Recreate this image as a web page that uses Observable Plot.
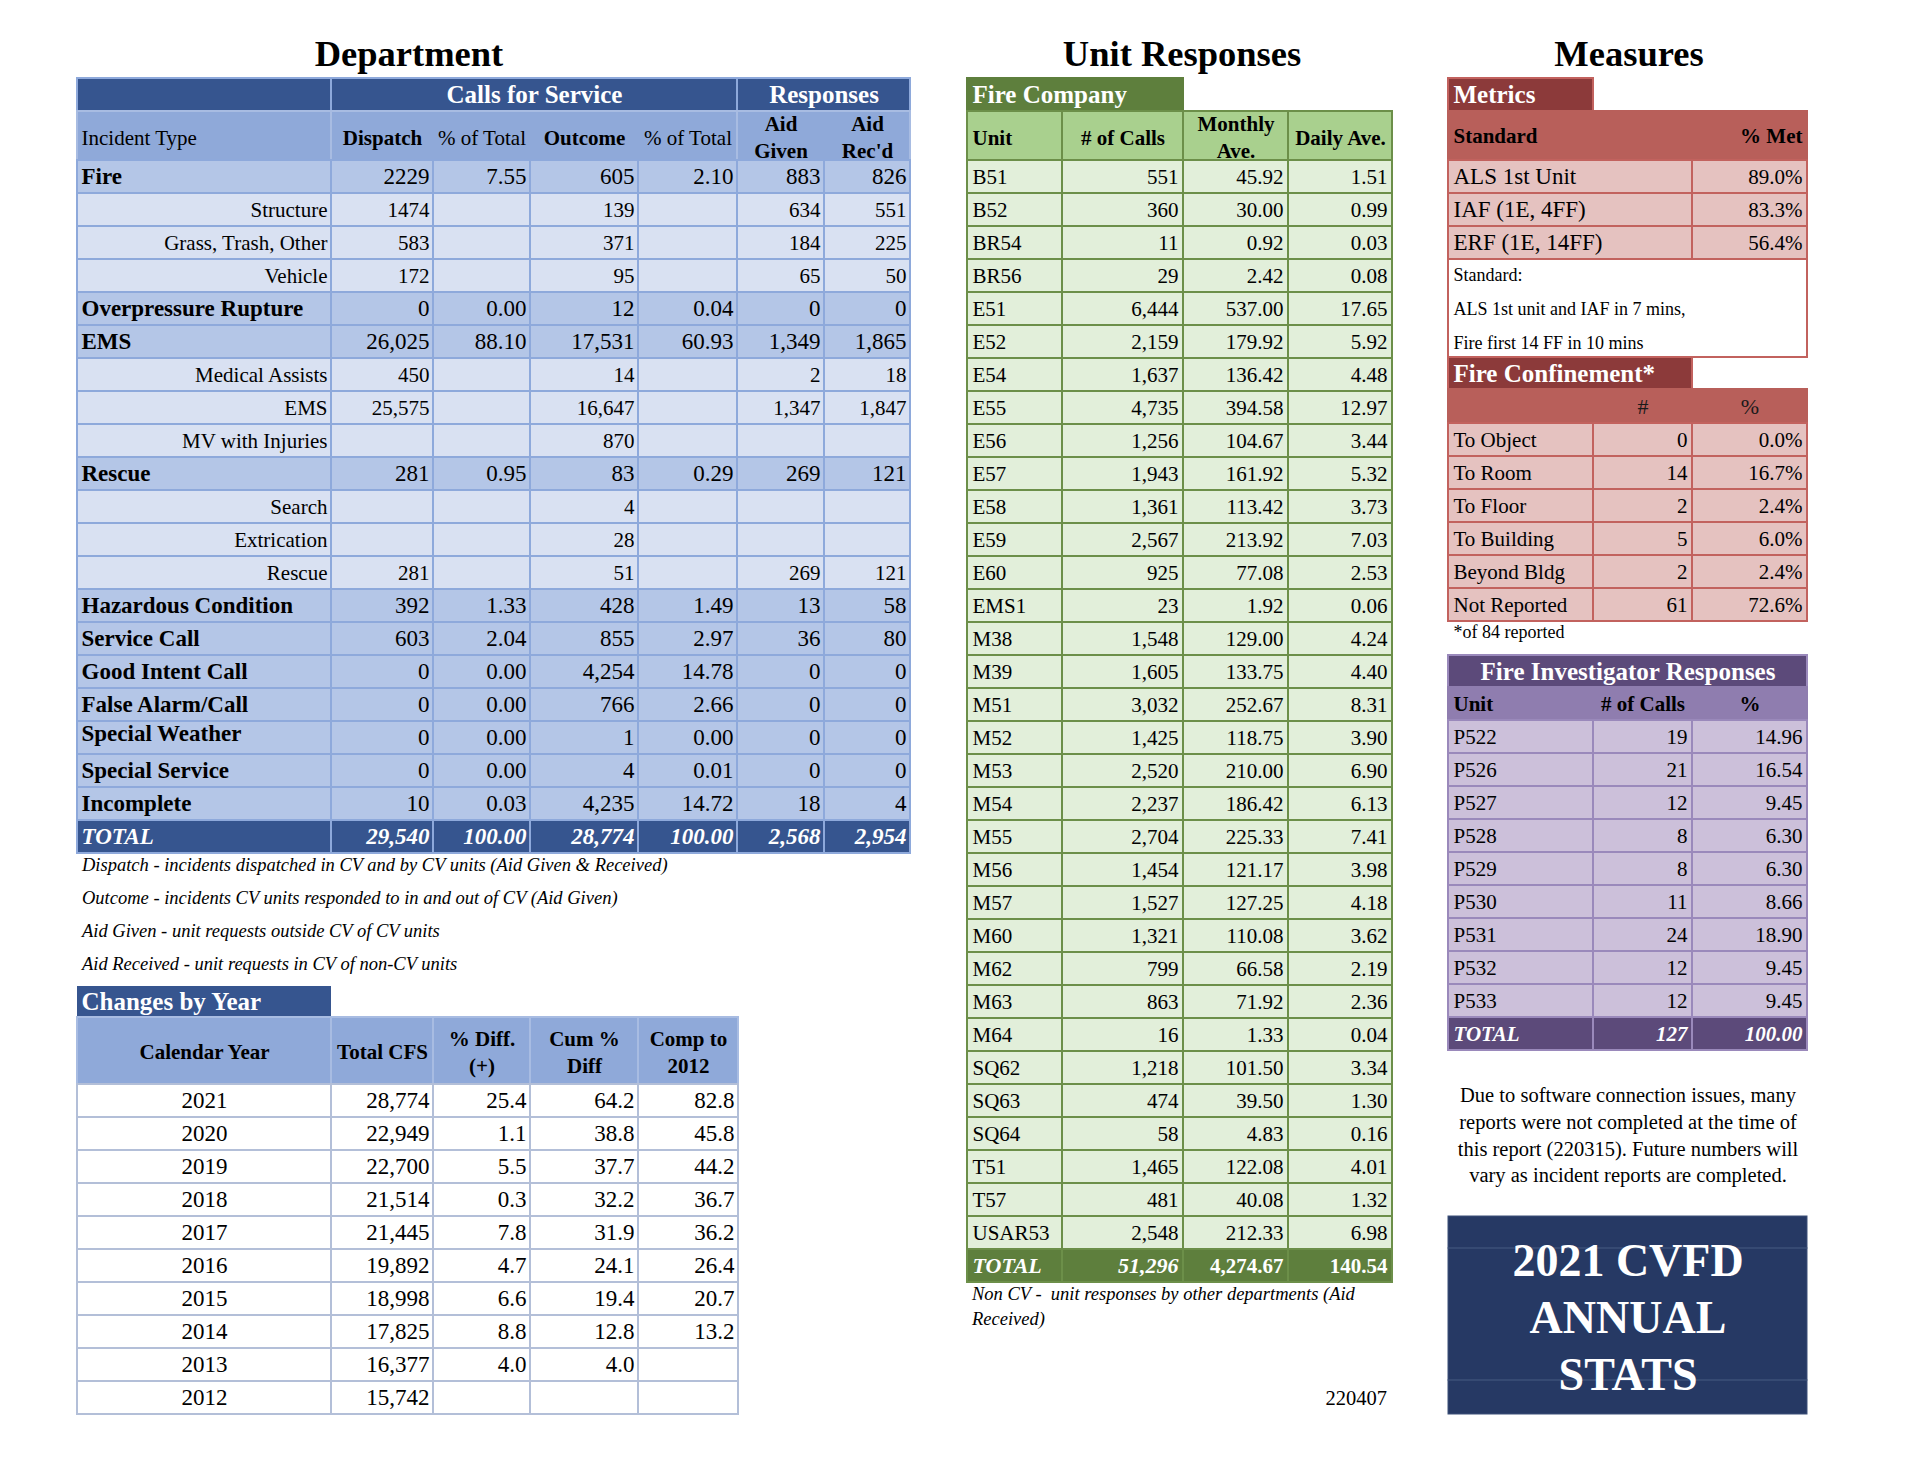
<!DOCTYPE html>
<html>
<head>
<meta charset="utf-8">
<script src="https://cdn.jsdelivr.net/npm/d3@7"></script>
<script src="https://cdn.jsdelivr.net/npm/@observablehq/plot@0.6"></script>
<style>
  html, body { margin: 0; padding: 0; background: #fff; }
  #page { position: relative; width: 1920px; height: 1480px; overflow: hidden;
          font-family: "Liberation Serif", "Times New Roman", Times, serif; color: #000; }
  .lbl { position: absolute; white-space: pre; line-height: 1; }
</style>
</head>
<body>
<div id="page"></div>
<script>
// ------------------------------------------------------------------ DATA
// Section titles
const sectionTitles = ["Department", "Unit Responses", "Measures"];

// Department – Calls for Service / Responses
const deptGroupHeaders = ["Calls for Service", "Responses"];
const deptColumnHeaders = ["Incident Type", "Dispatch", "% of Total", "Outcome", "% of Total", "Aid\nGiven", "Aid\nRec'd"];
const deptHeaderBold = [false, true, false, true, false, true, true];
const incidentTypes = ["Fire", "Structure", "Grass, Trash, Other", "Vehicle", "Overpressure Rupture", "EMS",
  "Medical Assists", "EMS", "MV with Injuries", "Rescue", "Search", "Extrication", "Rescue",
  "Hazardous Condition", "Service Call", "Good Intent Call", "False Alarm/Call", "Special Weather",
  "Special Service", "Incomplete", "TOTAL"];
const incidentLevels = ["cat", "sub", "sub", "sub", "cat", "cat", "sub", "sub", "sub", "cat", "sub", "sub", "sub",
  "cat", "cat", "cat", "cat", "cat", "cat", "cat", "total"];
const dispatchCounts = [2229, 1474, 583, 172, 0, 26025, 450, 25575, null, 281, null, null, 281, 392, 603, 0, 0, 0, 0, 10, 29540];
const dispatchPct    = [7.55, null, null, null, 0.00, 88.10, null, null, null, 0.95, null, null, null, 1.33, 2.04, 0.00, 0.00, 0.00, 0.00, 0.03, 100.00];
const outcomeCounts  = [605, 139, 371, 95, 12, 17531, 14, 16647, 870, 83, 4, 28, 51, 428, 855, 4254, 766, 1, 4, 4235, 28774];
const outcomePct     = [2.10, null, null, null, 0.04, 60.93, null, null, null, 0.29, null, null, null, 1.49, 2.97, 14.78, 2.66, 0.00, 0.01, 14.72, 100.00];
const aidGiven       = [883, 634, 184, 65, 0, 1349, 2, 1347, null, 269, null, null, 269, 13, 36, 0, 0, 0, 0, 18, 2568];
const aidReceived    = [826, 551, 225, 50, 0, 1865, 18, 1847, null, 121, null, null, 121, 58, 80, 0, 0, 0, 0, 4, 2954];
const plainCountRows = [0, 1, 2, 3]; // Fire group is printed without thousands separators
const raisedLabelRows = [17];         // "Special Weather" label sits high in its cell
const deptNotes = [
  "Dispatch - incidents dispatched in CV and by CV units (Aid Given & Received)",
  "Outcome - incidents CV units responded to in and out of CV (Aid Given)",
  "Aid Given - unit requests outside CV of CV units",
  "Aid Received - unit requests in CV of non-CV units"];

// Changes by Year
const yearTitle = "Changes by Year";
const yearHeaders = ["Calendar Year", "Total CFS", "% Diff.\n(+)", "Cum %\nDiff", "Comp to\n2012"];
const calendarYears = [2021, 2020, 2019, 2018, 2017, 2016, 2015, 2014, 2013, 2012];
const totalCFS   = [28774, 22949, 22700, 21514, 21445, 19892, 18998, 17825, 16377, 15742];
const pctDiff    = [25.4, 1.1, 5.5, 0.3, 7.8, 4.7, 6.6, 8.8, 4.0, null];
const cumPctDiff = [64.2, 38.8, 37.7, 32.2, 31.9, 24.1, 19.4, 12.8, 4.0, null];
const compTo2012 = [82.8, 45.8, 44.2, 36.7, 36.2, 26.4, 20.7, 13.2, null, null];

// Unit Responses – Fire Company
const unitTitle = "Fire Company";
const unitHeaders = ["Unit", "# of Calls", "Monthly\nAve.", "Daily Ave."];
const units = ["B51", "B52", "BR54", "BR56", "E51", "E52", "E54", "E55", "E56", "E57", "E58", "E59", "E60", "EMS1",
  "M38", "M39", "M51", "M52", "M53", "M54", "M55", "M56", "M57", "M60", "M62", "M63", "M64",
  "SQ62", "SQ63", "SQ64", "T51", "T57", "USAR53"];
const unitCalls = [551, 360, 11, 29, 6444, 2159, 1637, 4735, 1256, 1943, 1361, 2567, 925, 23,
  1548, 1605, 3032, 1425, 2520, 2237, 2704, 1454, 1527, 1321, 799, 863, 16,
  1218, 474, 58, 1465, 481, 2548];
const unitMonthly = [45.92, 30.00, 0.92, 2.42, 537.00, 179.92, 136.42, 394.58, 104.67, 161.92, 113.42, 213.92, 77.08, 1.92,
  129.00, 133.75, 252.67, 118.75, 210.00, 186.42, 225.33, 121.17, 127.25, 110.08, 66.58, 71.92, 1.33,
  101.50, 39.50, 4.83, 122.08, 40.08, 212.33];
const unitDaily = [1.51, 0.99, 0.03, 0.08, 17.65, 5.92, 4.48, 12.97, 3.44, 5.32, 3.73, 7.03, 2.53, 0.06,
  4.24, 4.40, 8.31, 3.90, 6.90, 6.13, 7.41, 3.98, 4.18, 3.62, 2.19, 2.36, 0.04,
  3.34, 1.30, 0.16, 4.01, 1.32, 6.98];
const unitTotals = [51296, 4274.67, 140.54];
const unitNotes = ["Non CV -  unit responses by other departments (Aid", "Received)"];
const reportCode = "220407";

// Measures
const metricsTitle = "Metrics";
const metricsHeaders = ["Standard", "% Met"];
const metricStandards = ["ALS 1st Unit", "IAF (1E, 4FF)", "ERF (1E, 14FF)"];
const metricPctMet = [89.0, 83.3, 56.4];
const standardNote = ["Standard:", "ALS 1st unit and IAF in 7 mins,", "Fire first 14 FF in 10 mins"];
const confinementTitle = "Fire Confinement*";
const confinementHeaders = ["", "#", "%"];
const confinementLevels = ["To Object", "To Room", "To Floor", "To Building", "Beyond Bldg", "Not Reported"];
const confinementCounts = [0, 14, 2, 5, 2, 61];
const confinementPct = [0.0, 16.7, 2.4, 6.0, 2.4, 72.6];
const confinementNote = "*of 84 reported";
const investigatorTitle = "Fire Investigator Responses";
const investigatorHeaders = ["Unit", "# of Calls", "%"];
const investigatorUnits = ["P522", "P526", "P527", "P528", "P529", "P530", "P531", "P532", "P533"];
const investigatorCalls = [19, 21, 12, 8, 8, 11, 24, 12, 12];
const investigatorPct = [14.96, 16.54, 9.45, 6.30, 6.30, 8.66, 18.90, 9.45, 9.45];
const investigatorTotals = [127, 100.00];
const softwareNote = ["Due to software connection issues, many", "reports were not completed at the time of",
  "this report (220315). Future numbers will", "vary as incident reports are completed."];
const coverTitle = ["2021 CVFD", "ANNUAL", "STATS"];

// ------------------------------------------------------------------ STYLE
const FONT = "'Liberation Serif','Times New Roman',Times,serif";
const C = {
  deptDark: "#36558F", deptHead: "#8FA9D9", deptCat: "#B4C6E7", deptSub: "#D9E1F2", deptLine: "#8EA9DB", deptHeadLine: "#A8BCE2",
  yrLine: "#B3BFD8",
  grnDark: "#5E7F3D", grnHead: "#A9D08E", grnBody: "#E2EFDA", grnLine: "#6C8F49",
  redDark: "#8C3A3A", redHead: "#B85F5A", redBody: "#E5C2C0", redLine: "#C2625E",
  purDark: "#5C4A7A", purHead: "#8F7DAF", purBody: "#CCC0DA", purLine: "#9A89BB",
  navy: "#263964", navyLine: "#3D5079"
};
const WHITE = "#ffffff";

const fmtComma = d3.format(",");
const fmtInt = d3.format("d");
const f2 = d3.format(".2f");
const f1 = d3.format(".1f");
const fc2 = d3.format(",.2f");
const show = (v, f) => (v == null ? "" : f(v));

// ------------------------------------------------------------------ RENDER HELPERS
const page = document.getElementById("page");

function place(text, {x, baseline, size, weight = "normal", style = "normal", align = "left", color = "#000"}) {
  const d = document.createElement("div");
  d.className = "lbl";
  d.textContent = text;
  Object.assign(d.style, {fontSize: size + "px", fontWeight: weight, fontStyle: style, color,
    top: (baseline - 0.8375 * size) + "px"});
  if (align === "left") d.style.left = x + "px";
  else if (align === "center") { d.style.left = (x - 600) + "px"; d.style.width = "1200px"; d.style.textAlign = "center"; }
  else { d.style.left = (x - 1200) + "px"; d.style.width = "1200px"; d.style.textAlign = "right"; }
  page.appendChild(d);
}

// A table is a list of rows (height + cells spanning column edges); drawn with Plot rect + text marks.
function drawTable({left, top, cols, rows, pad = 5}) {
  const W = cols[cols.length - 1];
  const fills = [], strokes = [], texts = [];
  let y = 0;
  for (const row of rows) {
    for (const c of row.cells) {
      const c1 = c.c1 ?? c.c0 + 1;
      const x1 = cols[c.c0], x2 = cols[c1];
      if (c.fill) fills.push({x1, x2, y1: y, y2: y + row.h, fill: c.fill});
      if (c.stroke) strokes.push({x1, x2, y1: y, y2: y + row.h, stroke: c.stroke, sw: c.sw ?? 2});
      if (c.text != null && c.text !== "") {
        const a = c.anchor || "start";
        const x = a === "start" ? x1 + pad : a === "end" ? x2 - pad : (x1 + x2) / 2;
        texts.push({x, y: y + row.h / 2 + (c.dy || 0), text: String(c.text), anchor: a,
          weight: c.weight || "normal", fstyle: c.style || "normal", size: c.size || 21,
          color: c.color || "#000", lh: c.lh || 1});
      }
    }
    y += row.h;
  }
  const H = y, m = 2;
  const marks = [Plot.rect(fills, {x1: "x1", x2: "x2", y1: "y1", y2: "y2", fill: "fill"})];
  for (const [sw, g] of d3.groups(strokes, d => d.sw)) {
    marks.push(Plot.rect(g, {x1: "x1", x2: "x2", y1: "y1", y2: "y2", fill: "none", stroke: "stroke", strokeWidth: sw}));
  }
  for (const [, g] of d3.groups(texts, d => [d.anchor, d.weight, d.fstyle, d.size, d.color, d.lh].join("|"))) {
    const s = g[0];
    marks.push(Plot.text(g, {x: "x", y: "y", text: "text", textAnchor: s.anchor, fontWeight: s.weight,
      fontStyle: s.fstyle, fontSize: s.size, fill: s.color, lineAnchor: "middle", lineHeight: s.lh,
      fontFamily: FONT}));
  }
  const svg = Plot.plot({
    width: W + 2 * m, height: H + 2 * m,
    marginTop: m, marginRight: m, marginBottom: m, marginLeft: m,
    x: {domain: [0, W], range: [m, W + m], axis: null},
    y: {domain: [0, H], range: [m, H + m], axis: null},
    color: {type: "identity"},
    style: {fontFamily: FONT, background: "transparent", overflow: "visible"},
    marks
  });
  svg.style.position = "absolute";
  svg.style.left = (left - m) + "px";
  svg.style.top = (top - m) + "px";
  svg.style.maxWidth = "none";
  page.appendChild(svg);
}

// ------------------------------------------------------------------ DEPARTMENT
{
  const rows = [];
  rows.push({h: 33, cells: [
    {c0: 0, c1: 1, fill: C.deptDark, stroke: C.deptLine},
    {c0: 1, c1: 5, fill: C.deptDark, stroke: C.deptLine, text: deptGroupHeaders[0], anchor: "middle", weight: "bold", size: 25, color: WHITE},
    {c0: 5, c1: 7, fill: C.deptDark, stroke: C.deptLine, text: deptGroupHeaders[1], anchor: "middle", weight: "bold", size: 25, color: WHITE}
  ]});
  rows.push({h: 49, cells: [
    {c0: 0, c1: 1, fill: C.deptHead, stroke: C.deptHeadLine},
    {c0: 1, c1: 5, fill: C.deptHead, stroke: C.deptHeadLine},
    {c0: 5, c1: 7, fill: C.deptHead, stroke: C.deptHeadLine},
    ...deptColumnHeaders.map((t, j) => ({c0: j, text: t, anchor: j === 0 ? "start" : "middle",
      weight: deptHeaderBold[j] ? "bold" : "normal", size: 21, lh: 1.28}))
  ]});
  const cols = [dispatchCounts, dispatchPct, outcomeCounts, outcomePct, aidGiven, aidReceived];
  const isPct = [false, true, false, true, false, false];
  incidentTypes.forEach((name, i) => {
    const lvl = incidentLevels[i];
    const fill = lvl === "total" ? C.deptDark : lvl === "cat" ? C.deptCat : C.deptSub;
    const size = lvl === "sub" ? 21 : 23;
    const color = lvl === "total" ? WHITE : "#000";
    const style = lvl === "total" ? "italic" : "normal";
    const cells = [{c0: 0, fill, stroke: C.deptLine, text: name, anchor: lvl === "sub" ? "end" : "start",
      weight: lvl === "sub" ? "normal" : "bold", style, size, color, dy: raisedLabelRows.includes(i) ? -4 : 0}];
    cols.forEach((arr, j) => {
      const fmt = isPct[j] ? f2 : (plainCountRows.includes(i) ? fmtInt : fmtComma);
      cells.push({c0: j + 1, fill, stroke: C.deptLine, text: show(arr[i], fmt), anchor: "end",
        weight: lvl === "total" ? "bold" : "normal", style, size, color});
    });
    rows.push({h: 33, cells});
  });
  drawTable({left: 77, top: 78, cols: [0, 254, 356, 453, 561, 660, 747, 833], rows, pad: 4});
}

// ------------------------------------------------------------------ CHANGES BY YEAR
{
  const rows = [];
  rows.push({h: 31, cells: [{c0: 0, c1: 1, fill: C.deptDark, text: yearTitle, weight: "bold", size: 25, color: WHITE}]});
  rows.push({h: 67, cells: yearHeaders.map((t, j) => ({c0: j, fill: C.deptHead, stroke: C.deptHeadLine,
    text: t, anchor: "middle", weight: "bold", size: 21, lh: 1.25}))});
  calendarYears.forEach((yr, i) => {
    rows.push({h: 33, cells: [
      {c0: 0, fill: WHITE, stroke: C.yrLine, text: String(yr), anchor: "middle", size: 23},
      {c0: 1, fill: WHITE, stroke: C.yrLine, text: show(totalCFS[i], fmtComma), anchor: "end", size: 23},
      {c0: 2, fill: WHITE, stroke: C.yrLine, text: show(pctDiff[i], f1), anchor: "end", size: 23},
      {c0: 3, fill: WHITE, stroke: C.yrLine, text: show(cumPctDiff[i], f1), anchor: "end", size: 23},
      {c0: 4, fill: WHITE, stroke: C.yrLine, text: show(compTo2012[i], f1), anchor: "end", size: 23}
    ]});
  });
  drawTable({left: 77, top: 986, cols: [0, 254, 356, 453, 561, 661], rows, pad: 4});
}

// ------------------------------------------------------------------ UNIT RESPONSES
{
  const rows = [];
  rows.push({h: 33, cells: [{c0: 0, c1: 2, fill: C.grnDark, stroke: C.grnDark, text: unitTitle, weight: "bold", size: 25, color: WHITE}]});
  rows.push({h: 49, cells: unitHeaders.map((t, j) => ({c0: j, fill: C.grnHead, stroke: C.grnLine, text: t,
    anchor: j === 0 ? "start" : "middle", weight: "bold", size: 21, lh: 1.28}))});
  units.forEach((u, i) => {
    rows.push({h: 33, cells: [
      {c0: 0, fill: C.grnBody, stroke: C.grnLine, text: u, size: 21},
      {c0: 1, fill: C.grnBody, stroke: C.grnLine, text: fmtComma(unitCalls[i]), anchor: "end", size: 21},
      {c0: 2, fill: C.grnBody, stroke: C.grnLine, text: fc2(unitMonthly[i]), anchor: "end", size: 21},
      {c0: 3, fill: C.grnBody, stroke: C.grnLine, text: f2(unitDaily[i]), anchor: "end", size: 21}
    ]});
  });
  rows.push({h: 33, cells: [
    {c0: 0, fill: C.grnDark, stroke: C.grnLine, text: "TOTAL", weight: "bold", style: "italic", size: 22, color: WHITE},
    {c0: 1, fill: C.grnDark, stroke: C.grnLine, text: fmtComma(unitTotals[0]), anchor: "end", weight: "bold", style: "italic", size: 22, color: WHITE},
    {c0: 2, fill: C.grnDark, stroke: C.grnLine, text: fc2(unitTotals[1]), anchor: "end", weight: "bold", size: 21, color: WHITE},
    {c0: 3, fill: C.grnDark, stroke: C.grnLine, text: f2(unitTotals[2]), anchor: "end", weight: "bold", size: 21, color: WHITE}
  ]});
  drawTable({left: 967, top: 78, cols: [0, 95, 216, 321, 425], rows, pad: 5});
}

// ------------------------------------------------------------------ MEASURES
{
  const rows = [];
  rows.push({h: 33, cells: [{c0: 0, c1: 1, fill: C.redDark, stroke: C.redLine, text: metricsTitle, weight: "bold", size: 25, color: WHITE}]});
  rows.push({h: 49, cells: [
    {c0: 0, c1: 3, fill: C.redHead, stroke: C.redHead},
    {c0: 0, text: metricsHeaders[0], weight: "bold", size: 21},
    {c0: 2, text: metricsHeaders[1], anchor: "end", weight: "bold", size: 21}
  ]});
  metricStandards.forEach((s, i) => {
    rows.push({h: 33, cells: [
      {c0: 0, c1: 2, fill: C.redBody, stroke: C.redLine, text: s, size: 23},
      {c0: 2, fill: C.redBody, stroke: C.redLine, text: f1(metricPctMet[i]) + "%", anchor: "end", size: 21}
    ]});
  });
  rows.push({h: 98, cells: [{c0: 0, c1: 3, fill: WHITE, stroke: C.redLine, text: standardNote.join("\n"), size: 18, lh: 1.89, dy: -4}]});
  rows.push({h: 32, cells: [{c0: 0, c1: 2, fill: C.redDark, stroke: C.redLine, text: confinementTitle, weight: "bold", size: 25, color: WHITE}]});
  rows.push({h: 34, cells: [
    {c0: 0, c1: 3, fill: C.redHead, stroke: C.redHead},
    {c0: 1, text: confinementHeaders[1], anchor: "middle", size: 22, color: "#1a1a1a"},
    {c0: 2, text: confinementHeaders[2], anchor: "middle", size: 22, color: "#1a1a1a"}
  ]});
  confinementLevels.forEach((s, i) => {
    rows.push({h: 33, cells: [
      {c0: 0, fill: C.redBody, stroke: C.redLine, text: s, size: 21},
      {c0: 1, fill: C.redBody, stroke: C.redLine, text: String(confinementCounts[i]), anchor: "end", size: 21},
      {c0: 2, fill: C.redBody, stroke: C.redLine, text: f1(confinementPct[i]) + "%", anchor: "end", size: 21}
    ]});
  });
  rows.push({h: 22, cells: [{c0: 0, c1: 3, text: confinementNote, size: 18}]});
  rows.push({h: 12, cells: []});
  rows.push({h: 32, cells: [{c0: 0, c1: 3, fill: C.purDark, stroke: C.purLine, text: investigatorTitle, anchor: "middle", weight: "bold", size: 25, color: WHITE}]});
  rows.push({h: 33, cells: [
    {c0: 0, c1: 3, fill: C.purHead, stroke: C.purHead},
    {c0: 0, text: investigatorHeaders[0], weight: "bold", size: 21},
    {c0: 1, text: investigatorHeaders[1], anchor: "middle", weight: "bold", size: 21},
    {c0: 2, text: investigatorHeaders[2], anchor: "middle", weight: "bold", size: 21}
  ]});
  investigatorUnits.forEach((u, i) => {
    rows.push({h: 33, cells: [
      {c0: 0, fill: C.purBody, stroke: C.purLine, text: u, size: 21},
      {c0: 1, fill: C.purBody, stroke: C.purLine, text: String(investigatorCalls[i]), anchor: "end", size: 21},
      {c0: 2, fill: C.purBody, stroke: C.purLine, text: f2(investigatorPct[i]), anchor: "end", size: 21}
    ]});
  });
  rows.push({h: 33, cells: [
    {c0: 0, fill: C.purDark, stroke: C.purLine, text: "TOTAL", weight: "bold", style: "italic", size: 21, color: WHITE},
    {c0: 1, fill: C.purDark, stroke: C.purLine, text: String(investigatorTotals[0]), anchor: "end", weight: "bold", style: "italic", size: 21, color: WHITE},
    {c0: 2, fill: C.purDark, stroke: C.purLine, text: f2(investigatorTotals[1]), anchor: "end", weight: "bold", style: "italic", size: 21, color: WHITE}
  ]});
  rows.push({h: 166, cells: [{c0: 0, c1: 3, text: softwareNote.join("\n"), anchor: "middle", size: 20.5, lh: 1.31}]});
  rows.push({h: 32, cells: [{c0: 0, c1: 3, fill: C.navy, stroke: C.navyLine, sw: 1}]});
  rows.push({h: 132, cells: [{c0: 0, c1: 3, fill: C.navy, stroke: C.navyLine, sw: 1,
    text: coverTitle.join("\n"), anchor: "middle", weight: "bold", size: 46, color: WHITE, lh: 1.24}]});
  rows.push({h: 34, cells: [{c0: 0, c1: 3, fill: C.navy, stroke: C.navyLine, sw: 1}]});
  drawTable({left: 1448, top: 78, cols: [0, 145, 244, 359], rows, pad: 5});
}

// ------------------------------------------------------------------ TITLES & NOTES
place(sectionTitles[0], {x: 409, baseline: 67, size: 36.5, weight: "bold", align: "center"});
place(sectionTitles[1], {x: 1182, baseline: 67, size: 36.5, weight: "bold", align: "center"});
place(sectionTitles[2], {x: 1629, baseline: 67, size: 36.5, weight: "bold", align: "center"});
deptNotes.forEach((t, i) => place(t, {x: 82, baseline: 871 + 33 * i, size: 18.5, style: "italic"}));
unitNotes.forEach((t, i) => place(t, {x: 972, baseline: 1300 + 25 * i, size: 18.5, style: "italic"}));
place(reportCode, {x: 1387, baseline: 1405, size: 20.5, align: "right"});
</script>
</body>
</html>
